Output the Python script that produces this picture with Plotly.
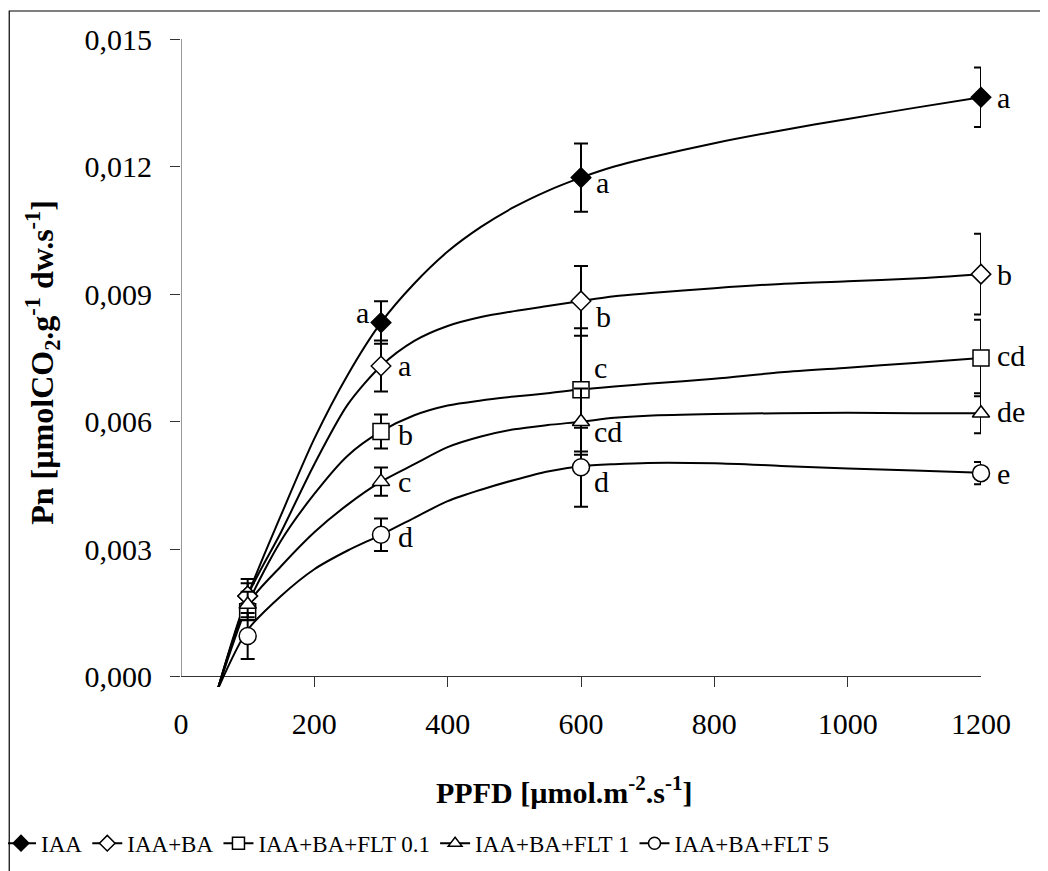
import plotly.graph_objects as go

# ---------------- data ----------------
series_names = ["IAA", "IAA+BA", "IAA+BA+FLT 0.1", "IAA+BA+FLT 1", "IAA+BA+FLT 5"]

ppfd_points = [100, 300, 600, 1200]

pn_iaa = [0.0019, 0.00833, 0.01174, 0.01363]
pn_iaa_ba = [0.0019, 0.00731, 0.00884, 0.00947]
pn_flt01 = [0.00153, 0.00577, 0.00675, 0.00750]
pn_flt1 = [0.00170, 0.00459, 0.00600, 0.00620]
pn_flt5 = [0.00096, 0.00334, 0.00493, 0.00479]

err_iaa = [0.0004, 0.0005, 0.0008, 0.0007]
err_iaa_ba = [0.0003, 0.0006, 0.00082, 0.00095]
err_flt01 = [0.0002, 0.0004, 0.00145, 0.0009]
err_flt1 = [0.0003, 0.00033, 0.00078, 0.00047]
err_flt5 = [0.00054, 0.00038, 0.00093, 0.00026]

letters_iaa = ["", "a", "a", "a"]
letters_iaa_ba = ["", "a", "b", "b"]
letters_flt01 = ["", "b", "c", "cd"]
letters_flt1 = ["", "c", "cd", "de"]
letters_flt5 = ["", "d", "d", "e"]

# fitted light-response curves
curve_x = [55, 100, 150, 200, 250, 300, 350, 400, 450, 500, 550, 600, 650, 700, 800, 900, 1000, 1100, 1200]
curve_iaa = [-0.0003, 0.0019, 0.0038, 0.0056, 0.0071, 0.00833, 0.00925, 0.0100, 0.01058, 0.01105, 0.01143, 0.01174,
             0.0120, 0.0122, 0.01255, 0.01285, 0.01312, 0.01338, 0.01363]
curve_iaa_ba = [-0.0003, 0.0019, 0.0034, 0.0050, 0.0064, 0.00731, 0.0079, 0.00825, 0.00846, 0.0086, 0.00872, 0.00884,
                0.00895, 0.00902, 0.00914, 0.00924, 0.0093, 0.00937, 0.00947]
curve_flt01 = [-0.0003, 0.0017, 0.0032, 0.0043, 0.0052, 0.00577, 0.00615, 0.00638, 0.0065, 0.00659, 0.00667, 0.00676,
               0.00683, 0.00689, 0.00701, 0.00716, 0.00727, 0.00738, 0.0075]
curve_flt1 = [-0.0003, 0.0017, 0.0026, 0.0034, 0.00405, 0.00459, 0.0050, 0.0054, 0.00565, 0.00582, 0.00592, 0.0060,
              0.00609, 0.00614, 0.00618, 0.0062, 0.00621, 0.0062, 0.0062]
curve_flt5 = [-0.0003, 0.0011, 0.0019, 0.00253, 0.00297, 0.00334, 0.00374, 0.00413, 0.0044, 0.00463, 0.00483, 0.00495,
              0.0050, 0.00503, 0.00502, 0.00496, 0.0049, 0.00485, 0.0048]

y_ticks = [0.0, 0.003, 0.006, 0.009, 0.012, 0.015]
x_ticks = [0, 200, 400, 600, 800, 1000, 1200]

x_title = "<b>PPFD [µmol.m<sup>-2</sup>.s<sup>-1</sup>]</b>"
y_title = "<b>Pn [µmolCO<sub>2</sub>.g<sup>-1</sup> dw.s<sup>-1</sup>]</b>"

# ---------------- styling ----------------
FONT = "Liberation Serif"
marker_styles = [
    dict(symbol="diamond", size=15, color="black", line=dict(color="black", width=1.5)),
    dict(symbol="diamond", size=15, color="white", line=dict(color="black", width=1.5)),
    dict(symbol="square", size=16, color="white", line=dict(color="black", width=1.5)),
    dict(symbol="triangle-up", size=15, color="white", line=dict(color="black", width=1.5)),
    dict(symbol="circle", size=17, color="white", line=dict(color="black", width=1.5)),
]
legend_markers = [
    dict(symbol="diamond", size=12, color="black", line=dict(color="black", width=1.5)),
    dict(symbol="diamond", size=12, color="white", line=dict(color="black", width=1.5)),
    dict(symbol="square", size=12, color="white", line=dict(color="black", width=1.5)),
    dict(symbol="triangle-up", size=12, color="white", line=dict(color="black", width=1.5)),
    dict(symbol="circle", size=12, color="white", line=dict(color="black", width=1.5)),
]

pts = [pn_iaa, pn_iaa_ba, pn_flt01, pn_flt1, pn_flt5]
errs = [err_iaa, err_iaa_ba, err_flt01, err_flt1, err_flt5]
curves = [curve_iaa, curve_iaa_ba, curve_flt01, curve_flt1, curve_flt5]
letters = [letters_iaa, letters_iaa_ba, letters_flt01, letters_flt1, letters_flt5]

# label placement per series & point: (xanchor, xshift, yshift)
label_place = [
    [None, ("right", -10, 10), ("left", 13, -5), ("left", 14, 0)],
    [None, ("left", 15, 0), ("left", 13, -16), ("left", 14, 0)],
    [None, ("left", 15, -3), ("left", 11, 22), ("left", 14, 2)],
    [None, ("left", 15, 0), ("left", 11, -10), ("left", 14, 2)],
    [None, ("left", 15, -2), ("left", 11, -14), ("left", 14, 0)],
]

fig = go.Figure()

for i in range(5):
    fig.add_trace(go.Scatter(
        x=curve_x, y=curves[i], mode="lines", line=dict(color="black", width=2, shape="spline", smoothing=0.8),
        showlegend=False, hoverinfo="skip"))

for i in range(5):
    fig.add_trace(go.Scatter(
        x=ppfd_points, y=pts[i], mode="markers", marker=marker_styles[i],
        error_y=dict(type="data", array=errs[i], visible=True, color="black", thickness=2, width=7),
        showlegend=False, cliponaxis=False))

for i in range(5):
    fig.add_trace(go.Scatter(
        x=[None], y=[None], mode="lines+markers", name=series_names[i],
        line=dict(color="black", width=2), marker=legend_markers[i]))

annotations = []
for i in range(5):
    for j, lab in enumerate(letters[i]):
        if not lab:
            continue
        xa, xs, ys = label_place[i][j]
        annotations.append(dict(
            x=ppfd_points[j], y=pts[i][j], xref="x", yref="y", text=lab, showarrow=False,
            xanchor=xa, yanchor="middle", xshift=xs, yshift=ys,
            font=dict(family=FONT, size=30, color="black")))

annotations.append(dict(
    x=0.479, y=-0.159, xref="paper", yref="paper", text=x_title, showarrow=False,
    xanchor="center", yanchor="middle", font=dict(family=FONT, size=30, color="black")))
annotations.append(dict(
    x=-0.174, y=0.5015, xref="paper", yref="paper", text=y_title, showarrow=False, textangle=-90,
    xanchor="center", yanchor="middle", font=dict(family=FONT, size=32, color="black")))

# the page body adds an 8px offset; the figure is sized so that the plot sits where the reference has it
fig.update_layout(
    width=1040, height=863,
    margin=dict(l=173, r=67, t=31, b=184, autoexpand=False),
    paper_bgcolor="white", plot_bgcolor="white",
    separators=",.",
    font=dict(family=FONT, size=28, color="black"),
    annotations=annotations,
    showlegend=True,
    legend=dict(orientation="h", x=-0.225, xanchor="left", y=-0.208, yanchor="top",
                font=dict(family=FONT, size=23, color="black"), itemwidth=30,
                traceorder="normal", tracegroupgap=0, bgcolor="rgba(0,0,0,0)"),
    shapes=[
        dict(type="line", xref="x", yref="y", x0=0, x1=0, y0=0, y1=0.015,
             line=dict(color="#333333", width=1)),
        dict(type="rect", xref="paper", yref="paper", x0=-0.2147, x1=1.12, y0=-0.4, y1=1.0432,
             line=dict(color="black", width=1.2), fillcolor="rgba(0,0,0,0)", layer="below"),
    ],
)

fig.update_xaxes(
    range=[0, 1200], tickvals=x_ticks, tickformat="d", automargin=False,
    showline=False, showgrid=False, zeroline=False,
    ticks="inside", ticklen=10, tickcolor="#333333", tickwidth=1,
    ticklabelstandoff=16,
    tickfont=dict(family=FONT, size=30, color="black"),
)
fig.update_yaxes(
    range=[-0.00024, 0.015], tickvals=y_ticks, tickformat=".3f", automargin=False,
    showline=False, showgrid=False,
    zeroline=True, zerolinecolor="#333333", zerolinewidth=1,
    ticks="outside", ticklen=10, tickcolor="#333333", tickwidth=1,
    ticklabelstandoff=12,
    tickfont=dict(family=FONT, size=30, color="black"),
)

fig.write_html("out.html")
